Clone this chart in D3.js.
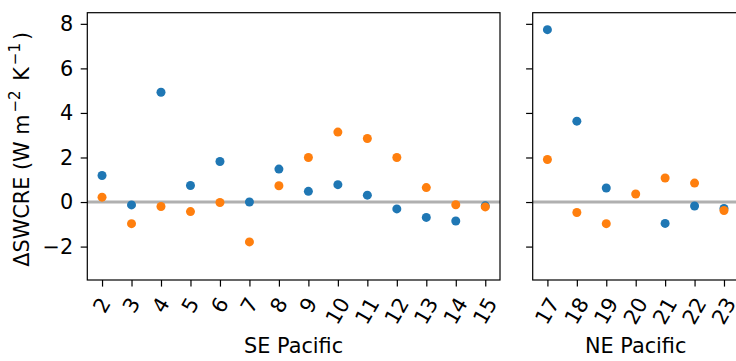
<!DOCTYPE html>
<html>
<head>
<meta charset="utf-8">
<script src="https://cdn.jsdelivr.net/npm/d3@7"></script>
<style>
  body { margin: 0; background: #fff; }
  svg text { font-family: "DejaVu Sans", sans-serif; fill: #000; }
</style>
</head>
<body>
<svg id="chart" width="736" height="361"></svg>
<script>
// SE Pacific regions
var seRegions = [2, 3, 4, 5, 6, 7, 8, 9, 10, 11, 12, 13, 14, 15];
var seBlue    = [1.19, -0.13, 4.93, 0.74, 1.82, 0.0, 1.48, 0.48, 0.78, 0.31, -0.31, -0.69, -0.85, -0.17];
var seOrange  = [0.22, -0.97, -0.2, -0.43, -0.02, -1.79, 0.73, 2.0, 3.14, 2.85, 2.0, 0.65, -0.12, -0.22];

// NE Pacific regions (no blue value at 20)
var neRegions = [17, 18, 19, 20, 21, 22, 23];
var neBlue    = [7.74, 3.63, 0.63, null, -0.96, -0.18, -0.29];
var neOrange  = [1.91, -0.47, -0.97, 0.36, 1.08, 0.85, -0.38];

var yTicks = [-2, 0, 2, 4, 6, 8];
var blue = "#1f77b4", orange = "#ff7f0e";

var svg = d3.select("#chart");
var top_ = 12.7, bottom = 280;
var fs = 20.8;

var y = d3.scaleLinear().domain([-3.5, 8.5]).range([bottom, top_]);

function panel(x0, x1, regions, blueVals, orangeVals, xdomain, name, showYLabels) {
  var x = d3.scaleLinear().domain(xdomain).range([x0, x1]);
  var g = svg.append("g");

  // zero line
  g.append("line")
    .attr("x1", x0).attr("x2", x1)
    .attr("y1", y(0)).attr("y2", y(0))
    .attr("stroke", "#b0b0b0").attr("stroke-width", 3);

  // points: blue first, orange on top
  var pb = regions.map(function(r, i) { return {r: r, v: blueVals[i]}; }).filter(function(d) { return d.v != null; });
  var po = regions.map(function(r, i) { return {r: r, v: orangeVals[i]}; }).filter(function(d) { return d.v != null; });
  g.selectAll(".b").data(pb).enter().append("circle")
    .attr("cx", function(d) { return x(d.r); })
    .attr("cy", function(d) { return y(d.v); })
    .attr("r", 4.5).attr("fill", blue);
  g.selectAll(".o").data(po).enter().append("circle")
    .attr("cx", function(d) { return x(d.r); })
    .attr("cy", function(d) { return y(d.v); })
    .attr("r", 4.5).attr("fill", orange);

  // frame
  g.append("rect")
    .attr("x", x0).attr("y", top_)
    .attr("width", x1 - x0).attr("height", bottom - top_)
    .attr("fill", "none").attr("stroke", "#000").attr("stroke-width", 1.2);

  // y axis
  var ya = g.append("g").attr("transform", "translate(" + x0 + ",0)")
    .call(d3.axisLeft(y).tickValues(yTicks).tickSize(6.6).tickPadding(7.5)
      .tickFormat(showYLabels ? function(d) { return d < 0 ? "\u2212" + (-d) : d; } : ""));
  ya.select(".domain").remove();
  ya.selectAll("line").attr("stroke-width", 1.2);
  ya.selectAll("text").attr("font-size", fs).attr("font-family", "DejaVu Sans");

  // x axis with rotated labels
  var xa = g.append("g").attr("transform", "translate(0," + bottom + ")")
    .call(d3.axisBottom(x).tickValues(regions).tickSize(6.6).tickFormat(""));
  xa.select(".domain").remove();
  xa.selectAll("line").attr("stroke-width", 1.2);

  var ang = 60 * Math.PI / 180;
  regions.forEach(function(r) {
    var t = g.append("text").text(r)
      .attr("font-size", fs)
      .attr("text-anchor", "middle")
      .attr("dominant-baseline", "central");
    var w = t.node().getComputedTextLength();
    var h = fs * 1.16;
    var H = w * Math.sin(ang) + h * Math.cos(ang);
    var cy = bottom + 6.6 + 7 + H / 2;
    t.attr("transform", "translate(" + x(r) + "," + cy + ") rotate(-60)");
  });

  svg.append("text")
    .attr("x", (x0 + x1) / 2).attr("y", 353)
    .attr("text-anchor", "middle")
    .attr("font-size", fs)
    .text(name);
}

panel(87.3, 500, seRegions, seBlue, seOrange, [1.5, 15.5], "SE Pacific", true);
panel(532.7, 738.7, neRegions, neBlue, neOrange, [16.5, 23.5], "NE Pacific", false);

// y label with superscripts
var sup = fs * 0.72;
var yl = svg.append("text")
  .attr("transform", "translate(29," + ((top_ + bottom) / 2 + 3) + ") rotate(-90)")
  .attr("text-anchor", "middle")
  .attr("font-size", fs);
yl.append("tspan").text("\u0394SWCRE (W m");
yl.append("tspan").attr("dx", 2).attr("dy", -9).attr("font-size", sup).text("\u22122");
yl.append("tspan").attr("dx", 3).attr("dy", 9).text(" K");
yl.append("tspan").attr("dx", 2).attr("dy", -9).attr("font-size", sup).text("\u22121");
yl.append("tspan").attr("dx", 3).attr("dy", 9).text(")");
</script>
</body>
</html>
